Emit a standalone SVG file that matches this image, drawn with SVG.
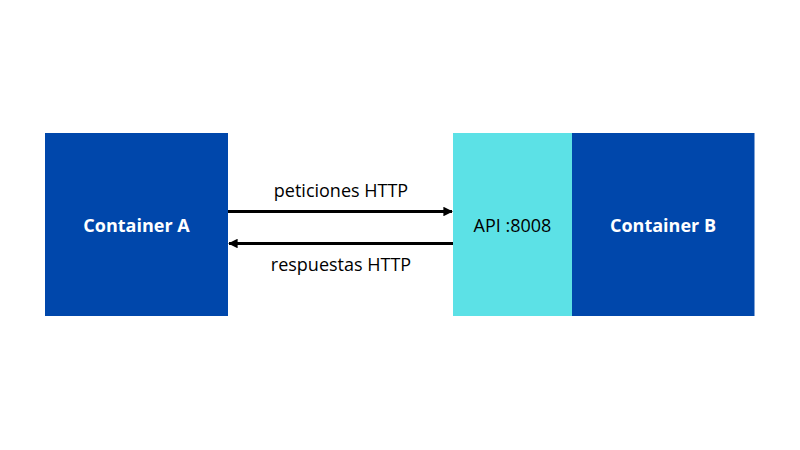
<svg xmlns="http://www.w3.org/2000/svg" width="800" height="450" viewBox="0 0 800 450">
<defs>
<style>
.dark{fill:#0047AB}
.api{fill:#5CE1E6}
.bold{font-family:"Open Sans","Liberation Sans",sans-serif;font-weight:bold;font-size:18px;fill:#ffffff;text-anchor:middle}
.reg{font-family:"Open Sans","Liberation Sans",sans-serif;font-size:18px;fill:#000000;text-anchor:middle}
.conn{stroke:#000;stroke-width:3;fill:none}
</style>
<marker id="ah" viewBox="0 0 10 10" refX="9" refY="5" markerWidth="3.2" markerHeight="3.2" orient="auto" markerUnits="strokeWidth">
<path d="M0,0 L10,5 L0,10 z" fill="#000"/>
</marker>
</defs>
<rect width="800" height="450" fill="#ffffff"/>
<g id="containerA">
<rect class="dark" x="45" y="133" width="183" height="183"/>
<text class="bold" x="136.5" y="231.5">Container A</text>
</g>
<g id="api">
<rect class="api" x="453" y="133" width="119" height="183"/>
<text class="reg" x="512.5" y="231.5">API :8008</text>
</g>
<g id="containerB">
<rect class="dark" x="572" y="133" width="182.5" height="183"/>
<text class="bold" x="663" y="231.5">Container B</text>
</g>
<g id="connectors">
<line class="conn" x1="228" y1="211.5" x2="452" y2="211.5" marker-end="url(#ah)"/>
<line class="conn" x1="453" y1="243.5" x2="229" y2="243.5" marker-end="url(#ah)"/>
<text class="reg" x="341" y="197">peticiones HTTP</text>
<text class="reg" x="341" y="271">respuestas HTTP</text>
</g>
</svg>
